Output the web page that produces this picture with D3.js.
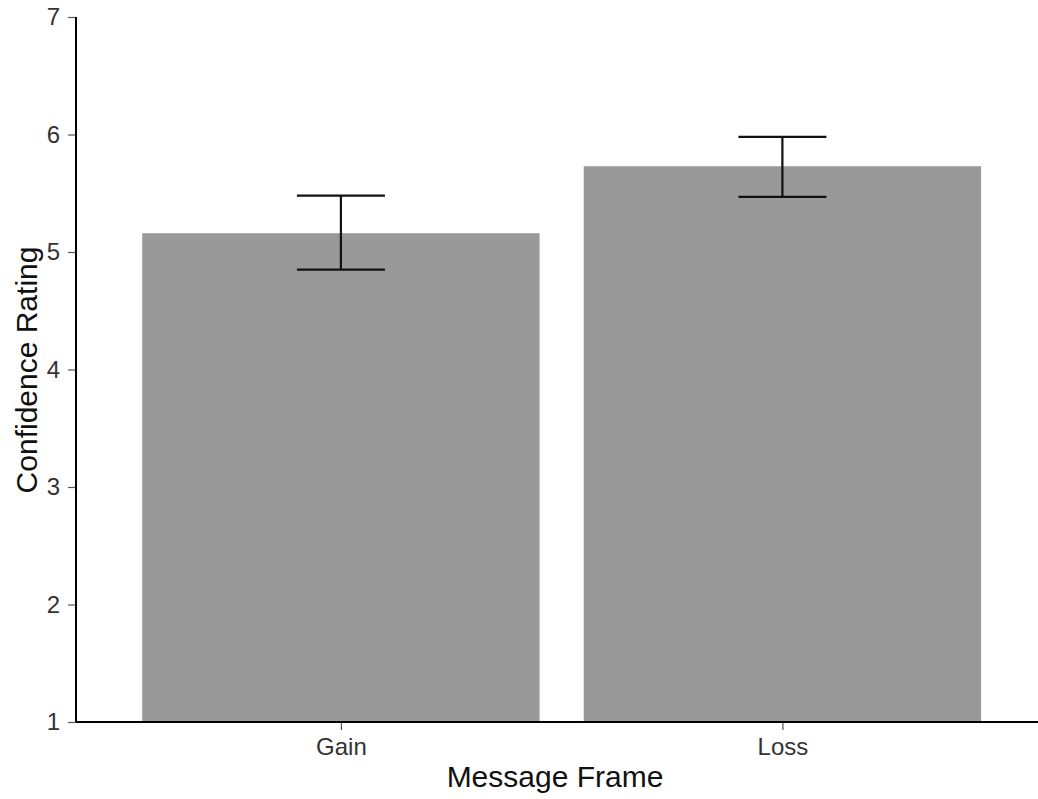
<!DOCTYPE html>
<html><head><meta charset="utf-8">
<script src="https://cdn.jsdelivr.net/npm/d3@7"></script>
<style>body{margin:0;background:#fff}svg{display:block}text{font-family:"Liberation Sans",Arial,sans-serif}</style>
</head><body>
<svg id="c" width="1038" height="799"></svg>
<script>
const categories = ["Gain", "Loss"];
const means = [5.16, 5.73];
const upper = [5.48, 5.98];
const lower = [4.85, 5.47];
const yTicks = [1, 2, 3, 4, 5, 6, 7];

(function () {
const svg = d3.select("#c");
const padL = 76, padT = 17, padB = 722;
const unit = 441.5;
const x = d3.scaleLinear().domain([0.4, 2.6]).range([padL, padL + 2.2 * unit]);
const y = d3.scaleLinear().domain([1, 7]).range([padB, padT]);
const bw = 0.9 * unit;

const data = categories.map((c, i) => ({c, i, m: means[i], u: upper[i], l: lower[i]}));

svg.selectAll("rect.bar").data(data).enter().append("rect")
  .attr("x", d => x(d.i + 1) - bw / 2).attr("width", bw)
  .attr("y", d => y(d.m)).attr("height", d => y(1) - y(d.m))
  .attr("fill", "#999999");

const capW = 88;
const eb = svg.selectAll("g.eb").data(data).enter().append("g").attr("stroke", "#111").attr("stroke-width", 2.2);
eb.append("line").attr("x1", d => x(d.i + 1)).attr("x2", d => x(d.i + 1)).attr("y1", d => y(d.u)).attr("y2", d => y(d.l));
eb.append("line").attr("x1", d => x(d.i + 1) - capW / 2).attr("x2", d => x(d.i + 1) + capW / 2).attr("y1", d => y(d.u)).attr("y2", d => y(d.u));
eb.append("line").attr("x1", d => x(d.i + 1) - capW / 2).attr("x2", d => x(d.i + 1) + capW / 2).attr("y1", d => y(d.l)).attr("y2", d => y(d.l));

const ya = svg.append("g").attr("transform", `translate(${padL},0)`)
  .call(d3.axisLeft(y).tickValues(yTicks).tickSize(8).tickPadding(8).tickFormat(d3.format("d")));
ya.select(".domain").remove();
ya.selectAll(".tick line").attr("stroke", "#555").attr("stroke-width", 1.2);
ya.selectAll(".tick text").attr("font-size", 24).attr("fill", "#333").attr("font-family", "Liberation Sans, Arial, sans-serif");
svg.append("line").attr("x1", padL).attr("x2", padL).attr("y1", padT).attr("y2", padB).attr("stroke", "#000").attr("stroke-width", 2);

const xs = d3.scalePoint().domain(categories).range([x(1), x(2)]);
const xa = svg.append("g").attr("transform", `translate(0,${padB})`)
  .call(d3.axisBottom(xs).tickSize(8).tickPadding(8));
xa.select(".domain").remove();
xa.selectAll(".tick line").attr("stroke", "#555").attr("stroke-width", 1.2);
xa.selectAll(".tick text").attr("font-size", 24).attr("fill", "#333").attr("font-family", "Liberation Sans, Arial, sans-serif");
svg.append("line").attr("x1", padL).attr("x2", 1038).attr("y1", padB).attr("y2", padB).attr("stroke", "#000").attr("stroke-width", 2);

svg.append("text").attr("x", 555).attr("y", 787).attr("text-anchor", "middle").attr("font-size", 30).attr("fill", "#111").text("Message Frame");
svg.append("text").attr("transform", "translate(37,370) rotate(-90)").attr("text-anchor", "middle").attr("font-size", 30).attr("fill", "#111").text("Confidence Rating");
})();
</script>
</body></html>
